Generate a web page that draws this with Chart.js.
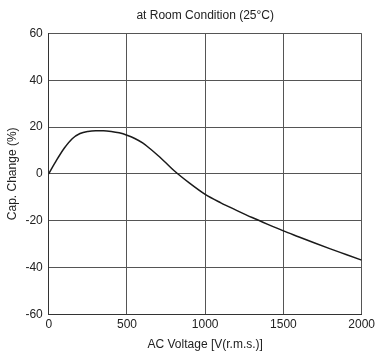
<!DOCTYPE html>
<html>
<head>
<meta charset="utf-8">
<script src="https://cdn.jsdelivr.net/npm/chart.js@4/dist/chart.umd.min.js"></script>
<style>
  html, body { margin: 0; padding: 0; background: #fff; }
  canvas { display: block; }
</style>
</head>
<body>
<canvas id="capChart" width="378" height="354"></canvas>
<script>
// AC voltage (V r.m.s.)
const voltage = [0, 50, 100, 150, 200, 250, 300, 350, 400, 450, 500, 550, 600, 650, 700, 750, 800, 900,
                 1000, 1100, 1200, 1300, 1400, 1500, 1600, 1700, 1800, 1900, 2000];
// capacitance change (%)
const capChange = [0, 5.8, 11, 15, 17.2, 18.1, 18.4, 18.4, 18.1, 17.5, 16.5, 15.1, 13.2, 10.6, 7.7, 4.6, 1.4, -4.0,
                   -8.8, -12.4, -15.6, -18.7, -21.6, -24.4, -27, -29.6, -32.1, -34.5, -36.9];
const xTicks = [0, 500, 1000, 1500, 2000];
const yTicks = [-60, -40, -20, 0, 20, 40, 60];

const font = { family: '"Liberation Sans", Arial, sans-serif', size: 12 };
const txt = '#222';

new Chart(document.getElementById('capChart'), {
    type: 'line',
    data: {
        datasets: [{
            data: voltage.map((v, i) => ({ x: v, y: capChange[i] })),
            borderColor: '#1a1a1a',
            borderWidth: 1.5,
            pointRadius: 0,
            cubicInterpolationMode: 'monotone',
            fill: false
        }]
    },
    options: {
        responsive: false,
        animation: false,
        layout: { padding: { left: 5, right: 0, top: 8, bottom: 2 } },
        plugins: {
            legend: { display: false },
            tooltip: { enabled: false }
        },
        scales: {
            x: {
                type: 'linear',
                min: 0,
                max: 2000,
                afterBuildTicks: axis => { axis.ticks = xTicks.map(v => ({ value: v })); },
                grid: { color: '#555', lineWidth: 1, drawTicks: false },
                border: { color: '#333', width: 1 },
                ticks: { font: font, color: txt, padding: 3, maxRotation: 0, callback: v => String(v) },
                title: { display: true, text: 'AC Voltage [V(r.m.s.)]', font: font, color: txt, padding: { top: 3, bottom: 0 } }
            },
            top: {
                type: 'linear',
                position: 'top',
                min: 0,
                max: 2000,
                grid: { display: false },
                border: { display: false },
                ticks: { display: false },
                title: { display: true, text: 'at Room Condition (25°C)', font: font, color: txt, padding: { top: 0, bottom: 3 } }
            },
            y: {
                min: -60,
                max: 60,
                afterBuildTicks: axis => { axis.ticks = yTicks.map(v => ({ value: v })); },
                grid: { color: '#555', lineWidth: 1, drawTicks: false },
                border: { color: '#333', width: 1 },
                ticks: { font: font, color: txt, padding: 6 },
                title: { display: true, text: 'Cap. Change (%)', font: font, color: txt, padding: { top: 0, bottom: 0 } }
            }
        }
    }
});
</script>
</body>
</html>
